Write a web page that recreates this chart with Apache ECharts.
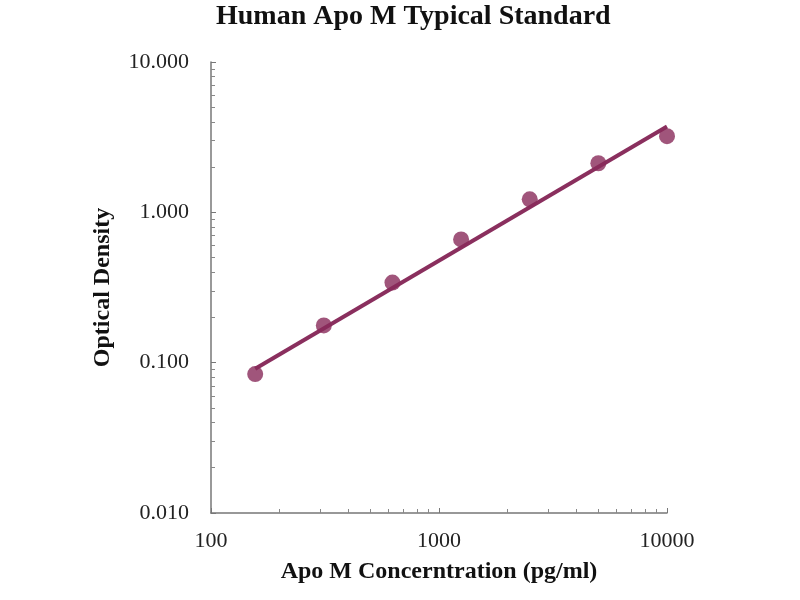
<!DOCTYPE html>
<html><head><meta charset="utf-8">
<script src="https://cdn.jsdelivr.net/npm/echarts@6/dist/echarts.min.js"></script>
<style>html,body{margin:0;padding:0;background:#fff}#c{width:800px;height:600px}</style>
</head><body><div id="c"></div>
<script>
const concentrations = [156.25, 312.5, 625, 1250, 2500, 5000, 10000];
const opticalDensity = [0.084, 0.177, 0.341, 0.66, 1.22, 2.12, 3.21];
const fitX = [156.25, 10000];
const fitY = [0.091, 3.72];
const xTicks = [100, 1000, 10000];
const yTicks = [0.01, 0.1, 1, 10];

const serif = '"Liberation Serif", "DejaVu Serif", serif';
const chart = echarts.init(document.getElementById('c'));
chart.setOption({
  animation: false,
  backgroundColor: '#fff',
  title: {
    text: 'Human Apo M Typical Standard',
    left: 211, top: -2,
    textStyle: {fontFamily: serif, fontWeight: 'bold', fontSize: 28, color: '#111'}
  },
  grid: {left: 211, right: 133, top: 62, bottom: 87, containLabel: false},
  xAxis: {
    type: 'log', logBase: 10, min: xTicks[0], max: xTicks[xTicks.length - 1],
    name: 'Apo M Concerntration (pg/ml)', nameLocation: 'middle', nameGap: 47,
    nameTextStyle: {fontFamily: serif, fontWeight: 'bold', fontSize: 24, color: '#111'},
    axisLine: {lineStyle: {color: '#777', width: 1.5}},
    axisTick: {inside: true, length: 5, lineStyle: {color: '#777'}},
    minorTick: {show: true, splitNumber: 9, length: 4, lineStyle: {color: '#888'}},
    splitLine: {show: false},
    axisLabel: {fontFamily: serif, fontSize: 22, color: '#222', margin: 17,
      formatter: v => String(Math.round(v))},
  },
  yAxis: {
    type: 'log', logBase: 10, min: yTicks[0], max: yTicks[yTicks.length - 1],
    name: 'Optical Density', nameLocation: 'middle', nameGap: 96,
    nameTextStyle: {fontFamily: serif, fontWeight: 'bold', fontSize: 24, color: '#111'},
    axisLine: {lineStyle: {color: '#777', width: 1.5}},
    axisTick: {inside: true, length: 5, lineStyle: {color: '#777'}},
    minorTick: {show: true, splitNumber: 9, length: 4, lineStyle: {color: '#888'}},
    splitLine: {show: false},
    axisLabel: {fontFamily: serif, fontSize: 22, color: '#222', margin: 22,
      formatter: v => Number(v).toFixed(3)}
  },
  series: [
    {
      type: 'line', data: fitX.map((x, i) => [x, fitY[i]]),
      showSymbol: false, lineStyle: {color: '#8a2f5e', width: 4}, z: 2
    },
    {
      type: 'scatter', data: concentrations.map((x, i) => [x, opticalDensity[i]]),
      symbolSize: 16, itemStyle: {color: '#882a5a'}, z: 3
    }
  ]
});
</script></body></html>
